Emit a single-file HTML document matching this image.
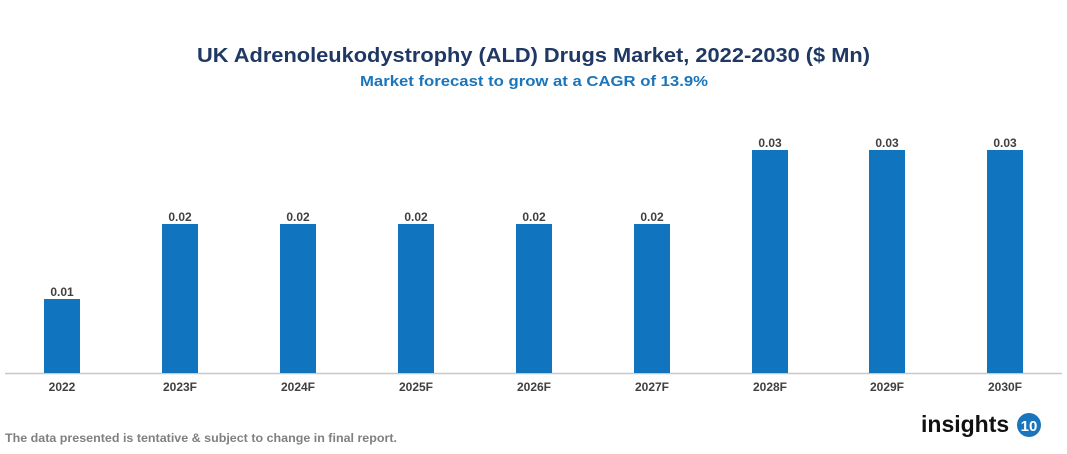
<!DOCTYPE html>
<html><head><meta charset="utf-8"><style>
html,body{margin:0;padding:0;background:#fff;}
svg{display:block;font-family:"Liberation Sans",Arial,sans-serif;}
</style></head><body>
<svg width="1067" height="454" viewBox="0 0 1067 454" xmlns="http://www.w3.org/2000/svg">
<text x="197" y="62" textLength="673" lengthAdjust="spacingAndGlyphs" font-size="20" font-weight="bold" fill="#1f3864">UK Adrenoleukodystrophy (ALD) Drugs Market, 2022-2030 ($ Mn)</text>
<text x="360" y="86" textLength="348" lengthAdjust="spacingAndGlyphs" font-size="15" font-weight="bold" fill="#1a75bc">Market forecast to grow at a CAGR of 13.9%</text>
<line x1="5" y1="373.5" x2="1062" y2="373.5" stroke="#c8c8c8" stroke-width="1.5"/>
<g fill="#1174be">
<rect x="44" y="299" width="36" height="74"/>
<rect x="162" y="224" width="36" height="149"/>
<rect x="280" y="224" width="36" height="149"/>
<rect x="398" y="224" width="36" height="149"/>
<rect x="516" y="224" width="36" height="149"/>
<rect x="634" y="224" width="36" height="149"/>
<rect x="752" y="150" width="36" height="223"/>
<rect x="869" y="150" width="36" height="223"/>
<rect x="987" y="150" width="36" height="223"/>
</g>
<g font-size="12" font-weight="bold" fill="#404040" text-anchor="middle">
<text x="62" y="296">0.01</text>
<text x="180" y="221">0.02</text>
<text x="298" y="221">0.02</text>
<text x="416" y="221">0.02</text>
<text x="534" y="221">0.02</text>
<text x="652" y="221">0.02</text>
<text x="770" y="147">0.03</text>
<text x="887" y="147">0.03</text>
<text x="1005" y="147">0.03</text>
</g>
<g font-size="12" font-weight="bold" fill="#404040" text-anchor="middle">
<text x="62" y="391">2022</text>
<text x="180" y="391">2023F</text>
<text x="298" y="391">2024F</text>
<text x="416" y="391">2025F</text>
<text x="534" y="391">2026F</text>
<text x="652" y="391">2027F</text>
<text x="770" y="391">2028F</text>
<text x="887" y="391">2029F</text>
<text x="1005" y="391">2030F</text>
</g>
<text x="5" y="442" textLength="392" lengthAdjust="spacingAndGlyphs" font-size="12" font-weight="bold" fill="#808080">The data presented is tentative &amp; subject to change in final report.</text>
<text x="921" y="432" font-size="23" font-weight="bold" fill="#111">insights</text>
<circle cx="1029" cy="425" r="12" fill="#1a75bc"/>
<text x="1029" y="431" text-anchor="middle" font-size="15" font-weight="bold" fill="#fff">10</text>
</svg>
</body></html>
